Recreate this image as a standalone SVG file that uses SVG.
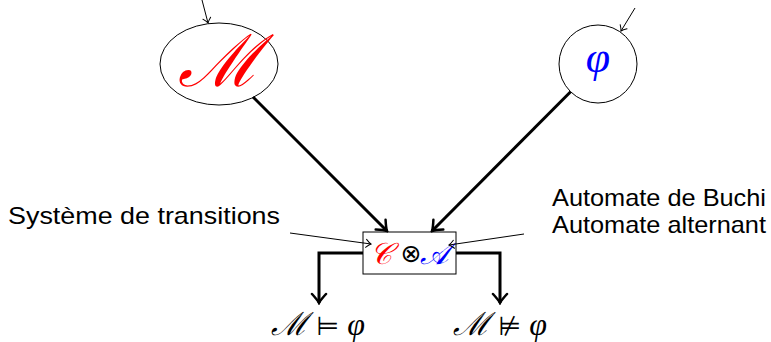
<svg xmlns="http://www.w3.org/2000/svg" width="771" height="342" viewBox="0 0 771 342">
<style>
.lbl{font-family:"Liberation Sans","DejaVu Sans",sans-serif;font-size:24px;fill:#000}
.math{font-family:"Liberation Serif","DejaVu Serif",serif;font-style:italic}
.sym{font-family:"DejaVu Sans",sans-serif}
.thin{stroke:#000;stroke-width:1;fill:none}
.thick{stroke:#000;stroke-width:3;fill:none}
.shape{fill:#fff;stroke:#000;stroke-width:1}
</style>
<defs>
<marker id="ah" markerUnits="userSpaceOnUse" viewBox="-12 -9 14 18" markerWidth="14" markerHeight="18" refX="0" refY="0" orient="auto">
<path d="M-9,-7 Q-3,-1.5 0,0 Q-3,1.5 -9,7" fill="none" stroke="#000" stroke-width="2.5" stroke-linecap="round"/>
</marker>
<marker id="at" markerUnits="userSpaceOnUse" viewBox="-8 -6 10 12" markerWidth="10" markerHeight="12" refX="0" refY="0" orient="auto">
<path d="M-5,-4 Q-2,-1 0,0 Q-2,1 -5,4" fill="none" stroke="#000" stroke-width="1" stroke-linecap="round"/>
</marker>
</defs>
<g id="nodeM">
<ellipse class="shape" cx="219" cy="64" rx="59" ry="41"/>
<text class="math" x="219" y="86" font-size="72" fill="#f00" text-anchor="middle">ℳ</text>
</g>
<g id="nodePhi">
<circle class="shape" cx="598" cy="64" r="39"/>
<text class="math" x="598" y="72" font-size="44" fill="#00f" text-anchor="middle">φ</text>
</g>
<g id="nodeProduct">
<rect class="shape" x="363" y="232" width="93" height="42"/>
<text class="math" x="381" y="264" font-size="30" fill="#f00" text-anchor="middle">𝒞</text>
<text class="sym" x="411" y="262" font-size="25" text-anchor="middle">⊗</text>
<text class="math" x="434" y="264" font-size="30" fill="#00f" text-anchor="middle">𝒜</text>
</g>
<g id="labelST"><text class="lbl" x="8" y="224" textLength="272" lengthAdjust="spacingAndGlyphs">Système de transitions</text></g>
<g id="labelAut">
<text class="lbl" x="552" y="206" textLength="214" lengthAdjust="spacingAndGlyphs">Automate de Buchi</text>
<text class="lbl" x="552" y="233" textLength="214" lengthAdjust="spacingAndGlyphs">Automate alternant</text>
</g>
<g id="resultSat">
<text x="318" y="335" font-size="32" text-anchor="middle"><tspan class="math">ℳ</tspan><tspan class="sym" font-size="26"> ⊨ </tspan><tspan class="math">φ</tspan></text>
</g>
<g id="resultNotSat">
<text x="500" y="335" font-size="32" text-anchor="middle"><tspan class="math">ℳ</tspan><tspan class="sym" font-size="26"> ⊭ </tspan><tspan class="math">φ</tspan></text>
</g>
<g id="connectors">
<line class="thin" x1="202" y1="0" x2="208" y2="23" marker-end="url(#at)"/>
<line class="thin" x1="635" y1="8" x2="621" y2="31" marker-end="url(#at)"/>
<line class="thick" x1="253" y1="97" x2="387" y2="231" marker-end="url(#ah)"/>
<line class="thick" x1="570.6" y1="91.7" x2="432" y2="231" marker-end="url(#ah)"/>
<polyline class="thick" points="363,253 319,253 319,303" marker-end="url(#ah)"/>
<polyline class="thick" points="456,253 500,253 500,303" marker-end="url(#ah)"/>
<line class="thin" x1="290" y1="233" x2="371" y2="244" marker-end="url(#at)"/>
<line class="thin" x1="524" y1="234" x2="449" y2="245" marker-end="url(#at)"/>
</g>
</svg>
